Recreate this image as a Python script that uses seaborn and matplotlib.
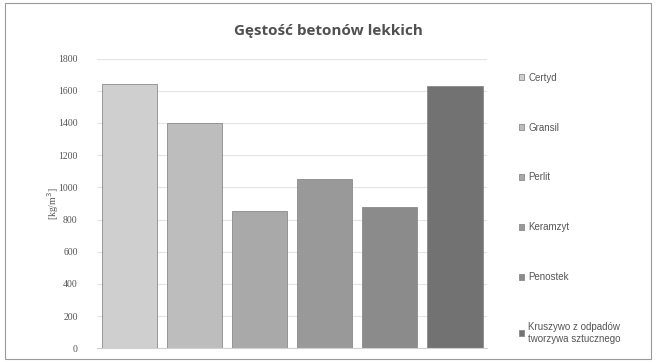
import matplotlib
matplotlib.use("Agg")
import matplotlib.pyplot as plt
import seaborn as sns
import pandas as pd
from matplotlib.patches import Rectangle

# data
materials = ["Certyd", "Gransil", "Perlit", "Keramzyt", "Penostek",
             "Kruszywo z odpadów\ntworzywa sztucznego"]
density = [1640, 1400, 850, 1050, 880, 1630]
bar_colors = ["#cfcfcf", "#bdbdbd", "#a9a9a9", "#999999", "#8b8b8b", "#727272"]
y_ticks = [0, 200, 400, 600, 800, 1000, 1200, 1400, 1600, 1800]

df = pd.DataFrame({"material": materials, "density": density})

sns.set_style("white")
plt.rcParams["font.family"] = ["Liberation Sans", "DejaVu Sans"]

fig = plt.figure(figsize=(6.56, 3.62), dpi=100)
ax = fig.add_axes([0.148, 0.038, 0.595, 0.80])

sns.barplot(data=df, x="material", y="density", hue="material",
            palette=bar_colors, dodge=False, width=0.85,
            edgecolor="#8a8a8a", linewidth=0.6, ax=ax, legend=True)

ax.set_ylim(0, 1800)
ax.set_yticks(y_ticks)
ax.set_yticklabels([str(t) for t in y_ticks], fontsize=7, color="#555555",
                   family=["Liberation Serif", "DejaVu Serif"])
ax.tick_params(axis="y", length=0, pad=14)
ax.set_xticks([])
ax.set_xlabel("")
ax.set_ylabel("[kg/m$^3$]", fontsize=7, color="#555555", labelpad=-2,
              family=["Liberation Serif", "DejaVu Serif"])
ax.yaxis.grid(True, color="#e4e4e4", linewidth=0.8)
ax.set_axisbelow(True)
for side in ["top", "right", "left"]:
    ax.spines[side].set_visible(False)
ax.spines["bottom"].set_color("#d0d0d0")
ax.set_xlim(-0.5, 5.5)

ax.legend(loc="upper left", bbox_to_anchor=(1.07, 0.965), frameon=False,
          fontsize=7, labelcolor="#555555", handlelength=0.6,
          handleheight=0.6, handletextpad=0.4, labelspacing=4.1,
          borderaxespad=0)

fig.text(0.5, 0.915, "Gęstość betonów lekkich", ha="center", va="center",
         fontsize=11, fontweight="bold", color="#505050",
         family=["Open Sans", "DejaVu Sans"])

fig.patches.append(Rectangle((0.008, 0.008), 0.984, 0.984,
                             transform=fig.transFigure, fill=False,
                             edgecolor="#9a9a9a", linewidth=0.8))

fig.savefig("out.png", dpi=100)
